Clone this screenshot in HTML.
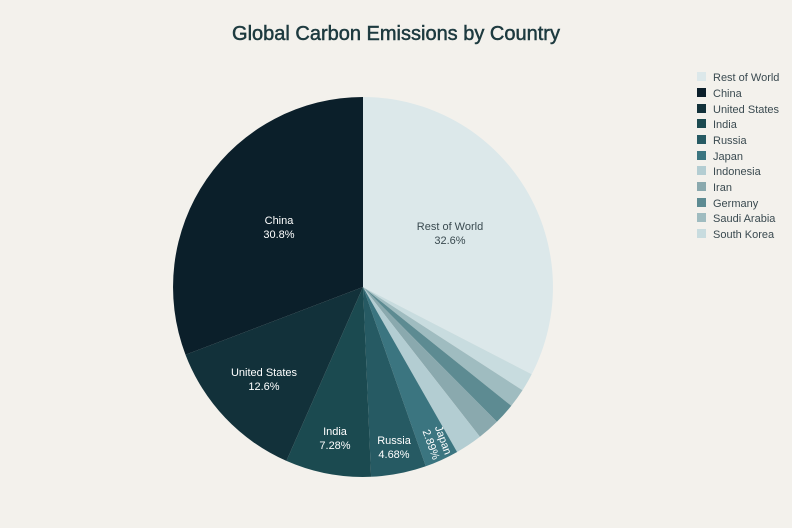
<!DOCTYPE html>
<html><head><meta charset="utf-8"><style>
body{margin:0;background:#f3f1ec;}
svg{display:block;font-family:"Liberation Sans",sans-serif;}
</style></head><body>
<svg width="792" height="528" viewBox="0 0 792 528">
<rect width="792" height="528" fill="#f3f1ec"/>
<text x="396" y="40" text-anchor="middle" font-size="20" fill="#1d3a3f" stroke="#1d3a3f" stroke-width="0.5">Global Carbon Emissions by Country</text>
<g stroke="none">
<path d="M363,287 L363,97 A190,190 0 0 1 531.7,374.3 Z" fill="#dce8ea"/>
<path d="M363,287 L531.7,374.3 A190,190 0 0 1 522.5,390.3 Z" fill="#c8dcdf"/>
<path d="M363,287 L522.5,390.3 A190,190 0 0 1 511.3,405.8 Z" fill="#9fbcc0"/>
<path d="M363,287 L511.3,405.8 A190,190 0 0 1 496.9,421.8 Z" fill="#5d8b92"/>
<path d="M363,287 L496.9,421.8 A190,190 0 0 1 479.9,436.8 Z" fill="#8aa9ae"/>
<path d="M363,287 L479.9,436.8 A190,190 0 0 1 457.1,452.0 Z" fill="#b3cdd2"/>
<path d="M363,287 L457.1,452.0 A190,190 0 0 1 425.8,466.3 Z" fill="#3b7580"/>
<path d="M363,287 L425.8,466.3 A190,190 0 0 1 371.1,476.8 Z" fill="#265a63"/>
<path d="M363,287 L371.1,476.8 A190,190 0 0 1 286.4,460.9 Z" fill="#1b4a50"/>
<path d="M363,287 L286.4,460.9 A190,190 0 0 1 185.5,354.7 Z" fill="#12313a"/>
<path d="M363,287 L185.5,354.7 A190,190 0 0 1 363,97 Z" fill="#0b1f2a"/>
</g>
<g font-size="11" text-anchor="middle">
<text x="450" y="230" fill="#3a4a50">Rest of World</text>
<text x="450" y="244" fill="#3a4a50">32.6%</text>
<text x="279" y="224" fill="#fff">China</text>
<text x="279" y="238" fill="#fff">30.8%</text>
<text x="264" y="376" fill="#fff">United States</text>
<text x="264" y="390" fill="#fff">12.6%</text>
<text x="335" y="435" fill="#fff">India</text>
<text x="335" y="449" fill="#fff">7.28%</text>
<text x="394" y="444" fill="#fff">Russia</text>
<text x="394" y="458" fill="#fff">4.68%</text>
<g transform="translate(438,442) rotate(70)">
<text x="0" y="-2" fill="#fff">Japan</text>
<text x="0" y="11" fill="#fff">2.89%</text>
</g>
</g>
<g font-size="11" fill="#3a4a50">
<rect x="697" y="72" width="9" height="9" fill="#dce8ea"/><text x="713" y="81">Rest of World</text>
<rect x="697" y="88" width="9" height="9" fill="#0b1f2a"/><text x="713" y="97">China</text>
<rect x="697" y="104" width="9" height="9" fill="#12313a"/><text x="713" y="113">United States</text>
<rect x="697" y="119" width="9" height="9" fill="#1b4a50"/><text x="713" y="128">India</text>
<rect x="697" y="135" width="9" height="9" fill="#265a63"/><text x="713" y="144">Russia</text>
<rect x="697" y="151" width="9" height="9" fill="#3b7580"/><text x="713" y="160">Japan</text>
<rect x="697" y="166" width="9" height="9" fill="#b3cdd2"/><text x="713" y="175">Indonesia</text>
<rect x="697" y="182" width="9" height="9" fill="#8aa9ae"/><text x="713" y="191">Iran</text>
<rect x="697" y="198" width="9" height="9" fill="#5d8b92"/><text x="713" y="207">Germany</text>
<rect x="697" y="213" width="9" height="9" fill="#9fbcc0"/><text x="713" y="222">Saudi Arabia</text>
<rect x="697" y="229" width="9" height="9" fill="#c8dcdf"/><text x="713" y="238">South Korea</text>
</g>
</svg>
</body></html>
